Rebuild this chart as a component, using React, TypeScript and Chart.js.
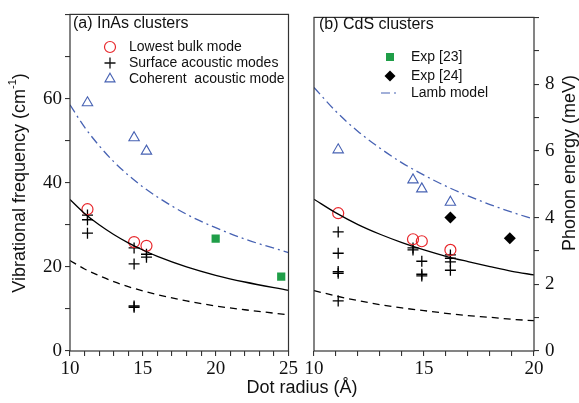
import React, { useEffect, useRef } from 'react';
import { Chart, registerables } from 'chart.js';
Chart.register(...registerables);

// ---------- Panel (a): InAs clusters (cm^-1) ----------
const inasBulkR = [11.2, 14.4, 15.25];
const inasBulk = [33.7, 25.9, 25.0];
const inasSurfR = [11.2, 11.2, 11.2, 14.4, 14.4, 14.4, 14.4, 15.25, 15.25];
const inasSurf = [32.3, 31.2, 28.0, 24.5, 20.7, 10.4, 10.7, 23.0, 22.3];
const inasCohR = [11.2, 14.4, 15.25];
const inasCoh = [59.0, 50.7, 47.5];
const inasExp23R = [20.0, 24.5];
const inasExp23 = [26.7, 17.7];
const inasCurveR = [10, 11, 12, 13, 14, 15, 16, 18, 20, 22, 25];
const inasSolid = [36.0, 32.7, 30.0, 27.7, 25.7, 24.0, 22.5, 20.0, 18.0, 16.4, 14.4];
const inasDashed = [21.5, 19.5, 17.9, 16.5, 15.3, 14.3, 13.4, 11.9, 10.7, 9.8, 8.6];
const inasLamb = [58.5, 53.2, 48.8, 45.0, 41.8, 39.0, 36.6, 32.5, 29.3, 26.6, 23.4];

// ---------- Panel (b): CdS clusters (meV) ----------
const cdsCohR = [11.1, 14.5, 14.9, 16.2];
const cdsCoh = [6.03, 5.13, 4.86, 4.46];
const cdsBulkR = [11.1, 14.5, 14.9, 16.2];
const cdsBulk = [4.13, 3.35, 3.29, 3.03];
const cdsSurfR = [11.1, 11.1, 11.1, 11.1, 11.1, 14.5, 14.5, 14.9, 14.9, 14.9, 16.2, 16.2, 16.2, 16.2];
const cdsSurf = [3.57, 2.93, 2.38, 2.33, 1.5, 3.09, 3.03, 2.69, 2.3, 2.25, 2.88, 2.78, 2.67, 2.42];
const cdsExp24R = [16.2, 18.9];
const cdsExp24 = [4.0, 3.38];
const cdsCurveR = [10, 11, 12, 13, 14, 15, 16, 17, 18, 19, 20];
const cdsSolid = [4.55, 4.14, 3.79, 3.5, 3.25, 3.03, 2.84, 2.68, 2.53, 2.39, 2.28];
const cdsDashed = [1.81, 1.65, 1.51, 1.39, 1.29, 1.21, 1.13, 1.06, 1.01, 0.95, 0.91];
const cdsLamb = [7.9, 7.18, 6.58, 6.08, 5.64, 5.27, 4.94, 4.65, 4.39, 4.16, 3.95];

// ---------- text ----------
const xTitle = 'Dot radius (Å)';
const leftYTitle = ['Vibrational frequency (cm', '-1', ')'];
const rightYTitle = 'Phonon energy (meV)';
const titleA = '(a) InAs clusters';
const titleB = '(b) CdS clusters';
const legendA = ['Lowest bulk mode', 'Surface acoustic modes', 'Coherent  acoustic mode'];
const legendB = ['Exp [23]', 'Exp [24]', 'Lamb model'];

const SERIF = '"Liberation Serif", "Times New Roman", "DejaVu Serif", serif';
const SANS = "'Liberation Sans', Arial, sans-serif";
const RED = '#e8262b';
const BLUE = '#4762b3';
const GREEN = '#1f9e48';
const INK = '#111';
const AXIS = '#333';

const pts = (xs: number[], ys: number[]) => xs.map((x, i) => ({ x, y: ys[i] }));

function drawMarker(ctx: CanvasRenderingContext2D, kind: string, x: number, y: number) {
  ctx.save();
  ctx.beginPath();
  if (kind === 'circle') {
    ctx.strokeStyle = RED; ctx.lineWidth = 1.2;
    ctx.arc(x, y, 5.5, 0, Math.PI * 2); ctx.stroke();
  } else if (kind === 'cross') {
    ctx.strokeStyle = INK; ctx.lineWidth = 1.3;
    ctx.moveTo(x - 5.5, y); ctx.lineTo(x + 5.5, y);
    ctx.moveTo(x, y - 5.5); ctx.lineTo(x, y + 5.5); ctx.stroke();
  } else if (kind === 'triangle') {
    ctx.strokeStyle = BLUE; ctx.lineWidth = 1.1;
    const r = 5.8;
    ctx.moveTo(x, y - r);
    ctx.lineTo(x + r * Math.sin(2 * Math.PI / 3), y - r * Math.cos(2 * Math.PI / 3));
    ctx.lineTo(x + r * Math.sin(4 * Math.PI / 3), y - r * Math.cos(4 * Math.PI / 3));
    ctx.closePath(); ctx.stroke();
  } else if (kind === 'square') {
    ctx.fillStyle = GREEN; ctx.fillRect(x - 4, y - 4, 8, 8);
  } else if (kind === 'diamond') {
    ctx.fillStyle = '#000';
    ctx.moveTo(x, y - 5.5); ctx.lineTo(x + 5.5, y); ctx.lineTo(x, y + 5.5); ctx.lineTo(x - 5.5, y);
    ctx.closePath(); ctx.fill();
  } else if (kind === 'lamb') {
    ctx.strokeStyle = BLUE; ctx.lineWidth = 1.2;
    ctx.setLineDash([9, 4, 2, 4]);
    ctx.moveTo(x - 9, y); ctx.lineTo(x + 7, y); ctx.stroke();
  }
  ctx.restore();
}

function drawRotated(ctx: CanvasRenderingContext2D, cx: number, cy: number, parts: { t: string; size: number; dy: number }[]) {
  ctx.save();
  ctx.translate(cx, cy);
  ctx.rotate(-Math.PI / 2);
  ctx.fillStyle = INK;
  ctx.textBaseline = 'middle';
  ctx.textAlign = 'left';
  let total = 0;
  const widths = parts.map(p => { ctx.font = `${p.size}px ${SANS}`; const w = ctx.measureText(p.t).width; total += w; return w; });
  let x = -total / 2;
  parts.forEach((p, i) => { ctx.font = `${p.size}px ${SANS}`; ctx.fillText(p.t, x, p.dy); x += widths[i]; });
  ctx.restore();
}

function makeOverlay(opts: {
  title: string; titleX: number; titleY: number;
  kinds: string[]; labels: string[]; markerX: number; textX: number; rowsY: number[];
  yTitle: { t: string; size: number; dy: number }[]; yTitleX: number; yTitleY: number;
}) {
  return {
    id: 'overlay',
    afterDraw(chart: any) {
      const ctx: CanvasRenderingContext2D = chart.ctx;
      const a = chart.chartArea;
      ctx.save();
      ctx.strokeStyle = AXIS;
      ctx.lineWidth = 1.2;
      ctx.strokeRect(a.left, a.top, a.right - a.left, a.bottom - a.top);
      ctx.fillStyle = INK;
      ctx.textBaseline = 'middle';
      ctx.textAlign = 'left';
      ctx.font = `16px ${SANS}`;
      ctx.fillText(opts.title, opts.titleX, opts.titleY);
      ctx.font = `14px ${SANS}`;
      opts.labels.forEach((lab, i) => {
        drawMarker(ctx, opts.kinds[i], opts.markerX, opts.rowsY[i]);
        ctx.fillStyle = INK;
        ctx.font = `14px ${SANS}`;
        ctx.fillText(lab, opts.textX, opts.rowsY[i]);
      });
      ctx.restore();
      drawRotated(ctx, opts.yTitleX, opts.yTitleY, opts.yTitle);
    },
  };
}

const tickFont = { family: SERIF, size: 19 };
const gridOpts = { drawOnChartArea: false, drawTicks: true, tickLength: 5, color: AXIS, tickColor: AXIS, lineWidth: 1.1 };

const curve = (data: any[], color: string, dash: number[], yAxisID: string) => ({
  data, showLine: true, pointRadius: 0, borderColor: color, borderWidth: 1.3,
  borderDash: dash, cubicInterpolationMode: 'monotone', fill: false, yAxisID,
});

function leftConfig(): any {
  return {
    type: 'scatter',
    data: {
      datasets: [
        curve(pts(inasCurveR, inasSolid), '#000', [], 'y'),
        curve(pts(inasCurveR, inasDashed), '#000', [7, 5], 'y'),
        curve(pts(inasCurveR, inasLamb), BLUE, [9, 4, 2, 4], 'y'),
        { data: pts(inasBulkR, inasBulk), pointStyle: 'circle', pointRadius: 5.5, borderColor: RED, backgroundColor: 'rgba(0,0,0,0)', borderWidth: 1.2 },
        { data: pts(inasSurfR, inasSurf), pointStyle: 'cross', pointRadius: 5.5, borderColor: '#000', borderWidth: 1.3 },
        { data: pts(inasCohR, inasCoh), pointStyle: 'triangle', pointRadius: 6, borderColor: BLUE, backgroundColor: 'rgba(0,0,0,0)', borderWidth: 1.1 },
        { data: pts(inasExp23R, inasExp23), pointStyle: 'rect', pointRadius: 5.8, borderColor: GREEN, backgroundColor: GREEN, borderWidth: 0 },
      ],
    },
    options: {
      animation: false, responsive: false, devicePixelRatio: 1,
      layout: { padding: { left: 0, top: 10, right: 10, bottom: 0 } },
      plugins: { legend: { display: false }, tooltip: { enabled: false } },
      scales: {
        x: {
          type: 'linear', min: 10, max: 25,
          afterFit: (s: any) => { s.height = 52; },
          ticks: { stepSize: 1, autoSkip: false, maxRotation: 0, font: tickFont, color: INK, padding: 2,
            callback: (v: number) => (v % 5 === 0 ? String(v) : '') },
          grid: gridOpts, border: { display: false },
        },
        y: {
          type: 'linear', min: 0, max: 80,
          afterFit: (s: any) => { s.width = 70; },
          ticks: { stepSize: 10, autoSkip: false, font: tickFont, color: INK, padding: 3,
            callback: (v: number) => (v % 20 === 0 && v < 80 ? String(v) : '') },
          grid: gridOpts, border: { display: false },
        },
      },
    },
    plugins: [makeOverlay({
      title: titleA, titleX: 73, titleY: 24,
      kinds: ['circle', 'cross', 'triangle'], labels: legendA, markerX: 110, textX: 129, rowsY: [47, 63, 79],
      yTitle: [{ t: leftYTitle[0], size: 18, dy: 0 }, { t: leftYTitle[1], size: 11, dy: -7 }, { t: leftYTitle[2], size: 18, dy: 0 }],
      yTitleX: 20, yTitleY: 183,
    })],
  };
}

function rightConfig(): any {
  return {
    type: 'scatter',
    data: {
      datasets: [
        curve(pts(cdsCurveR, cdsSolid), '#000', [], 'y1'),
        curve(pts(cdsCurveR, cdsDashed), '#000', [7, 5], 'y1'),
        curve(pts(cdsCurveR, cdsLamb), BLUE, [9, 4, 2, 4], 'y1'),
        { data: pts(cdsBulkR, cdsBulk), yAxisID: 'y1', pointStyle: 'circle', pointRadius: 5.5, borderColor: RED, backgroundColor: 'rgba(0,0,0,0)', borderWidth: 1.2 },
        { data: pts(cdsSurfR, cdsSurf), yAxisID: 'y1', pointStyle: 'cross', pointRadius: 5.5, borderColor: '#000', borderWidth: 1.3 },
        { data: pts(cdsCohR, cdsCoh), yAxisID: 'y1', pointStyle: 'triangle', pointRadius: 6, borderColor: BLUE, backgroundColor: 'rgba(0,0,0,0)', borderWidth: 1.1 },
        { data: pts(cdsExp24R, cdsExp24), yAxisID: 'y1', pointStyle: 'rectRot', pointRadius: 6, borderColor: '#000', backgroundColor: '#000', borderWidth: 0 },
      ],
    },
    options: {
      animation: false, responsive: false, devicePixelRatio: 1,
      layout: { padding: { left: 14, top: 10, right: 0, bottom: 0 } },
      plugins: { legend: { display: false }, tooltip: { enabled: false } },
      scales: {
        x: {
          type: 'linear', min: 10, max: 20,
          afterFit: (s: any) => { s.height = 52; },
          ticks: { stepSize: 1, autoSkip: false, maxRotation: 0, font: tickFont, color: INK, padding: 2,
            callback: (v: number) => (v % 5 === 0 ? String(v) : '') },
          grid: gridOpts, border: { display: false },
        },
        y: { type: 'linear', min: 0, max: 80, display: false },
        y1: {
          type: 'linear', position: 'right', min: 0, max: 10,
          afterFit: (s: any) => { s.width = 45; },
          ticks: { stepSize: 1, autoSkip: false, font: tickFont, color: INK, padding: 6,
            callback: (v: number) => (v % 2 === 0 && v < 10 ? String(v) : '') },
          grid: gridOpts, border: { display: false },
        },
      },
    },
    plugins: [makeOverlay({
      title: titleB, titleX: 19, titleY: 25,
      kinds: ['square', 'diamond', 'lamb'], labels: legendB, markerX: 90, textX: 111, rowsY: [57, 76, 93],
      yTitle: [{ t: rightYTitle, size: 18, dy: 0 }],
      yTitleX: 270, yTitleY: 163,
    })],
  };
}

export default function App() {
  const leftRef = useRef<HTMLCanvasElement>(null);
  const rightRef = useRef<HTMLCanvasElement>(null);
  useEffect(() => {
    const c1 = new Chart(leftRef.current as HTMLCanvasElement, leftConfig());
    const c2 = new Chart(rightRef.current as HTMLCanvasElement, rightConfig());
    return () => { c1.destroy(); c2.destroy(); };
  }, []);
  return (
    <div style={{ position: 'fixed', left: 0, top: 0, width: 579, height: 403, background: '#fff', overflow: 'hidden' }}>
      <canvas ref={leftRef} width={300} height={403} style={{ position: 'absolute', left: 0, top: 0, width: 300, height: 403 }} />
      <canvas ref={rightRef} width={279} height={403} style={{ position: 'absolute', left: 300, top: 0, width: 279, height: 403 }} />
      <div style={{ position: 'absolute', left: 0, top: 376, width: 604, textAlign: 'center', font: `18px ${SANS}`, lineHeight: '22px', color: INK }}>{xTitle}</div>
    </div>
  );
}
